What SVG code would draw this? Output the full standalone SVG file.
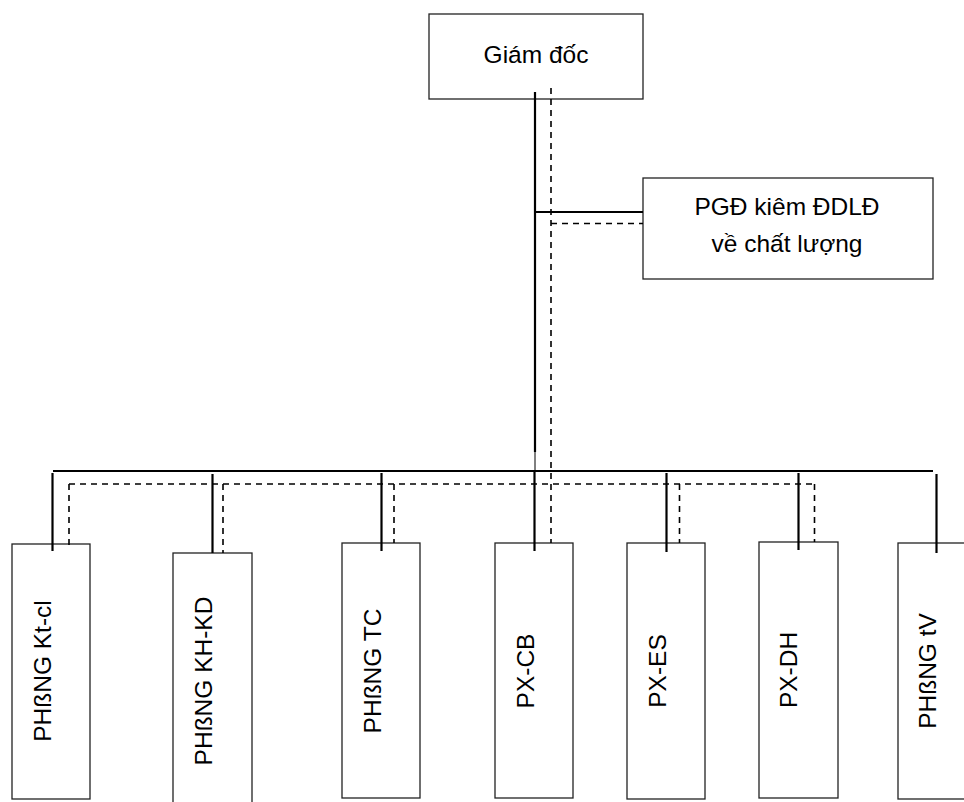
<svg xmlns="http://www.w3.org/2000/svg" width="964" height="802" viewBox="0 0 964 802">
<style>
.box{fill:#fff;stroke:#222;stroke-width:1.3}
.lbl{font-family:"Liberation Sans",Arial,sans-serif;font-size:24.5px;fill:#000;text-anchor:middle}
.sol{stroke:#000;stroke-width:2.2;fill:none}
.thin{stroke:#000;stroke-width:1;fill:none}
.dash{stroke:#000;stroke-width:1.6;fill:none;stroke-dasharray:6 5}
</style>
<rect width="964" height="802" fill="#fff"/>
<g id="n-giamdoc">
<rect class="box" x="429" y="14" width="214" height="85"/>
<text class="lbl" x="536" y="63">Giám đốc</text>
</g>
<g id="n-pgd">
<rect class="box" x="643" y="178" width="290" height="101"/>
<text class="lbl" x="787" y="215">PGĐ kiêm ĐDLĐ</text>
<text class="lbl" x="787" y="252">về chất lượng</text>
</g>
<g id="n-ktcl">
<rect class="box" x="12" y="544" width="78" height="255"/>
<text class="lbl" transform="translate(51,671) rotate(-90)">PHßNG Kt-cl</text>
</g>
<g id="n-khkd">
<rect class="box" x="173" y="553" width="79" height="260"/>
<text class="lbl" transform="translate(211.5,681) rotate(-90)">PHßNG KH-KD</text>
</g>
<g id="n-tc">
<rect class="box" x="342" y="543" width="78" height="255"/>
<text class="lbl" transform="translate(381,671) rotate(-90)">PHßNG TC</text>
</g>
<g id="n-pxcb">
<rect class="box" x="495" y="543" width="78" height="255"/>
<text class="lbl" transform="translate(533.5,671) rotate(-90)">PX-CB</text>
</g>
<g id="n-pxes">
<rect class="box" x="627" y="543" width="78" height="256"/>
<text class="lbl" transform="translate(665.5,671) rotate(-90)">PX-ES</text>
</g>
<g id="n-pxdh">
<rect class="box" x="759" y="542" width="79" height="256"/>
<text class="lbl" transform="translate(797,670) rotate(-90)">PX-DH</text>
</g>
<g id="n-tv">
<rect class="box" x="898" y="543" width="80" height="256"/>
<text class="lbl" transform="translate(935.5,671) rotate(-90)">PHßNG tV</text>
</g>
<g id="connectors">
<line class="sol" x1="535" y1="92" x2="535" y2="452"/>
<line class="thin" x1="535" y1="452" x2="535" y2="471"/>
<line class="sol" x1="535" y1="212" x2="643" y2="212"/>
<line class="sol" x1="53" y1="471" x2="933" y2="471"/>
<line class="sol" x1="52.5" y1="473" x2="52.5" y2="551"/>
<line class="sol" x1="212.5" y1="474" x2="212.5" y2="553"/>
<line class="sol" x1="381.5" y1="473" x2="381.5" y2="551"/>
<line class="sol" x1="534.5" y1="471" x2="534.5" y2="551"/>
<line class="sol" x1="666.5" y1="473" x2="666.5" y2="552"/>
<line class="sol" x1="798.5" y1="473" x2="798.5" y2="550"/>
<line class="sol" x1="936.5" y1="474" x2="936.5" y2="553"/>
<line class="dash" x1="551" y1="88" x2="551" y2="543"/>
<line class="dash" x1="551" y1="223.5" x2="643" y2="223.5"/>
<line class="dash" x1="69" y1="484" x2="814.5" y2="484"/>
<line class="dash" x1="69" y1="484" x2="69" y2="549"/>
<line class="dash" x1="223" y1="484" x2="223" y2="553"/>
<line class="dash" x1="394" y1="484" x2="394" y2="543"/>
<line class="dash" x1="679.5" y1="484" x2="679.5" y2="543"/>
<line class="dash" x1="814.5" y1="484" x2="814.5" y2="542"/>
</g>
</svg>
